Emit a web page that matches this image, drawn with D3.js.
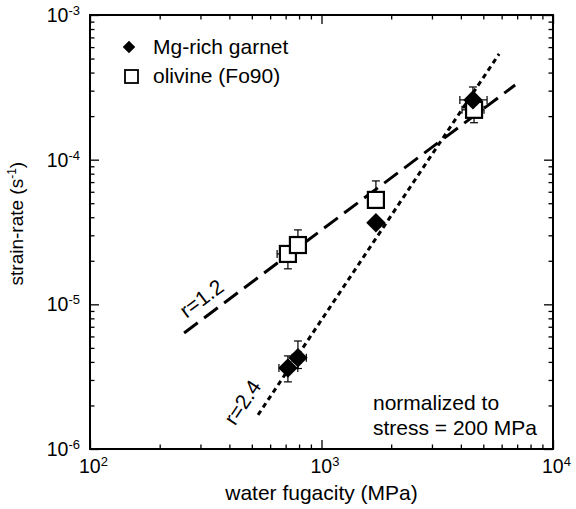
<!DOCTYPE html>
<meta charset="utf-8">
<style>
  body { margin: 0; background: #fff; }
  text { font-family: "Liberation Sans", Arial, sans-serif; fill: #000; }
</style>
<body>
<div id="chart"></div>
<script src="https://d3js.org/d3.v7.min.js"></script>
<script>

// Mg-rich garnet (filled diamonds)
var garnetX   = [716, 791, 1718, 4510];
var garnetY   = [3.63e-6, 4.27e-6, 3.66e-5, 2.59e-4];
var garnetYLo = [2.91e-6, 3.6e-6, null, 2.2e-4];
var garnetYHi = [4.4e-6, 5.58e-6, null, 3.18e-4];
var garnetXLo = [655, 746, null, 3960];
var garnetXHi = [790, 860, null, 5190];

// olivine Fo90 (open squares)
var olivineX   = [716, 791, 1718, 4560];
var olivineY   = [2.23e-5, 2.57e-5, 5.27e-5, 2.21e-4];
var olivineYLo = [1.76e-5, null, 4.6e-5, 1.80e-4];
var olivineYHi = [null, 3.27e-5, 7.13e-5, null];
var olivineXLo = [643, null, null, 4046];
var olivineXHi = [null, null, null, 5035];

// fitted lines (end points)
var fit12X = [255, 6860], fit12Y = [6.34e-6, 3.28e-4];
var fit24X = [532, 5850], fit24Y = [1.72e-6, 5.38e-4];

// axis ticks
var xMajor = [1e2, 1e3, 1e4], xExp = ["2", "3", "4"];
var yMajor = [1e-6, 1e-5, 1e-4, 1e-3], yExp = ["-6", "-5", "-4", "-3"];

var margin = {top: 15, right: 23, bottom: 60, left: 90},
    width = 576 - margin.left - margin.right,
    height = 509 - margin.top - margin.bottom;

var svg = d3.select("#chart").append("svg")
    .attr("width", 576).attr("height", 509)
  .append("g")
    .attr("transform", "translate(" + margin.left + "," + margin.top + ")");

var x = d3.scaleLog().domain([1e2, 1e4]).range([0, width]);
var y = d3.scaleLog().domain([1e-6, 1e-3]).range([height, 0]);

function minors(lo, hi) {
  var out = [];
  for (var d = lo; d < hi; d *= 10)
    for (var k = 2; k <= 9; k++) out.push(d * k);
  return out;
}
var xMinor = minors(1e2, 1e4), yMinor = minors(1e-6, 1e-3);

// ticks on all four sides, pointing inward
function ticks(axis, vals, size, tr) {
  var g = svg.append("g").attr("transform", tr)
    .call(axis.tickValues(vals).tickSize(-size).tickFormat(""));
  g.select(".domain").remove();
  g.selectAll("line").attr("stroke", "#000").attr("stroke-width", 1.3);
}
ticks(d3.axisBottom(x), xMajor, 9, "translate(0," + height + ")");
ticks(d3.axisBottom(x), xMinor, 4.5, "translate(0," + height + ")");
ticks(d3.axisTop(x), xMajor, 9, "translate(0,0)");
ticks(d3.axisTop(x), xMinor, 4.5, "translate(0,0)");
ticks(d3.axisLeft(y), yMajor, 9, "translate(0,0)");
ticks(d3.axisLeft(y), yMinor, 4.5, "translate(0,0)");
ticks(d3.axisRight(y), yMajor, 9, "translate(" + width + ",0)");
ticks(d3.axisRight(y), yMinor, 4.5, "translate(" + width + ",0)");

svg.append("rect")
  .attr("width", width).attr("height", height)
  .attr("fill", "none").attr("stroke", "#000").attr("stroke-width", 2);

// tick labels with superscript exponents
xMajor.forEach(function(v, i) {
  var t = svg.append("text")
    .attr("x", x(v) - 11).attr("y", height + 24)
    .style("font-size", "19.5px");
  t.append("tspan").text("10");
  t.append("tspan").attr("dy", -7).style("font-size", "13px").text(xExp[i]);
});
yMajor.forEach(function(v, i) {
  var t = svg.append("text")
    .attr("x", -10).attr("y", y(v) + 7)
    .attr("text-anchor", "end")
    .style("font-size", "19.5px");
  t.append("tspan").text("10");
  t.append("tspan").attr("dy", -7).style("font-size", "13px").text(yExp[i]);
});

// axis titles
svg.append("text")
  .attr("x", width / 2).attr("y", height + 51)
  .attr("text-anchor", "middle")
  .style("font-size", "21px")
  .text("water fugacity (MPa)");

var yt = svg.append("text")
  .attr("transform", "translate(-67," + (y(1e-4) + 64) + ") rotate(-90)")
  .attr("text-anchor", "middle")
  .style("font-size", "19px");
yt.append("tspan").text("strain-rate (s");
yt.append("tspan").attr("dy", -7).style("font-size", "12px").text("-1");
yt.append("tspan").attr("dy", 7).text(")");

// fitted lines
var line = d3.line().x(function(d) { return x(d[0]); }).y(function(d) { return y(d[1]); });
svg.append("path")
  .datum(d3.zip(fit12X, fit12Y))
  .attr("d", line)
  .attr("fill", "none").attr("stroke", "#000").attr("stroke-width", 3)
  .attr("stroke-dasharray", "17,8");
svg.append("path")
  .datum(d3.zip(fit24X, fit24Y))
  .attr("d", line)
  .attr("fill", "none").attr("stroke", "#000").attr("stroke-width", 3)
  .attr("stroke-dasharray", "5,4");

function angle(xs, ys) {
  return Math.atan2(y(ys[1]) - y(ys[0]), x(xs[1]) - x(xs[0])) * 180 / Math.PI;
}
svg.append("text")
  .attr("transform", "translate(" + x(303) + "," + y(1.1e-5) + ") rotate(" + angle(fit12X, fit12Y) + ")")
  .attr("text-anchor", "middle").attr("dy", "0.35em")
  .style("font-size", "21px")
  .text("r=1.2");
svg.append("text")
  .attr("transform", "translate(" + x(455) + "," + y(2.1e-6) + ") rotate(" + angle(fit24X, fit24Y) + ")")
  .attr("text-anchor", "middle").attr("dy", "0.35em")
  .style("font-size", "21px")
  .text("r=2.4");

// error bars
function errorBars(xs, ys, lo, hi, xlo, xhi) {
  var g = svg.append("g").attr("stroke", "#000").attr("stroke-width", 1.2);
  xs.forEach(function(xv, i) {
    var px = x(xv), py = y(ys[i]);
    [lo[i], hi[i]].forEach(function(e) {
      if (e == null) return;
      g.append("line").attr("x1", px).attr("x2", px).attr("y1", py).attr("y2", y(e));
      g.append("line").attr("x1", px - 4).attr("x2", px + 4).attr("y1", y(e)).attr("y2", y(e));
    });
    [xlo[i], xhi[i]].forEach(function(e) {
      if (e == null) return;
      g.append("line").attr("y1", py).attr("y2", py).attr("x1", px).attr("x2", x(e));
      g.append("line").attr("y1", py - 4).attr("y2", py + 4).attr("x1", x(e)).attr("x2", x(e));
    });
  });
}
errorBars(olivineX, olivineY, olivineYLo, olivineYHi, olivineXLo, olivineXHi);
errorBars(garnetX, garnetY, garnetYLo, garnetYHi, garnetXLo, garnetXHi);

// markers
var sq = 16;
svg.selectAll(".olv").data(d3.zip(olivineX, olivineY)).enter().append("rect")
  .attr("x", function(d) { return x(d[0]) - sq / 2; })
  .attr("y", function(d) { return y(d[1]) - sq / 2; })
  .attr("width", sq).attr("height", sq)
  .attr("fill", "#fff").attr("stroke", "#000").attr("stroke-width", 2.2);

var diamond = d3.symbol().type(d3.symbolDiamond2).size(240);
svg.selectAll(".grt").data(d3.zip(garnetX, garnetY)).enter().append("path")
  .attr("transform", function(d) { return "translate(" + x(d[0]) + "," + y(d[1]) + ")"; })
  .attr("d", diamond)
  .attr("fill", "#000");

// legend
svg.append("path")
  .attr("transform", "translate(39,32)")
  .attr("d", d3.symbol().type(d3.symbolDiamond2).size(100))
  .attr("fill", "#000");
svg.append("text").attr("x", 63).attr("y", 39).style("font-size", "21px").text("Mg-rich garnet");
svg.append("rect")
  .attr("x", 35).attr("y", 55).attr("width", 13).attr("height", 13)
  .attr("fill", "#fff").attr("stroke", "#000").attr("stroke-width", 1.8);
svg.append("text").attr("x", 63).attr("y", 68).style("font-size", "21px").text("olivine (Fo90)");

// normalization note
svg.append("text").attr("x", 283).attr("y", 395).style("font-size", "21px").text("normalized to");
svg.append("text").attr("x", 283).attr("y", 420).style("font-size", "21px").text("stress = 200 MPa");

</script>
</body>
